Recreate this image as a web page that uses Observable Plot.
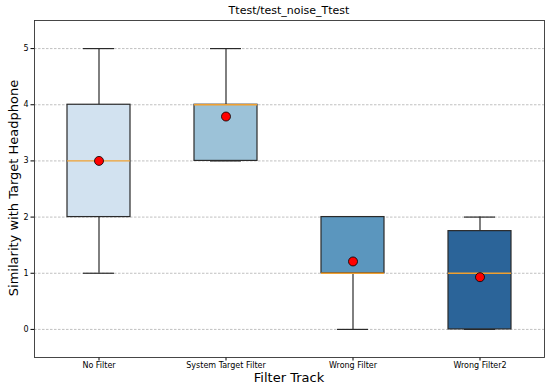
<!DOCTYPE html>
<html><head><meta charset="utf-8">
<script src="https://cdn.jsdelivr.net/npm/d3@7"></script>
<script src="https://cdn.jsdelivr.net/npm/@observablehq/plot@0.6"></script>
<style>
body{margin:0;background:#fff;font-family:"DejaVu Sans",sans-serif;}
#wrap{position:relative;width:550px;height:389px;}
#title{position:absolute;top:4px;left:34px;width:510px;text-align:center;font-size:11px;color:#000;}
#xlab{position:absolute;top:370px;left:34px;width:510px;text-align:center;font-size:13px;line-height:15px;color:#000;}
#ylab{position:absolute;left:13px;top:188px;transform:translate(-50%,-50%) rotate(-90deg);font-size:13px;line-height:15px;white-space:nowrap;color:#000;}
#chart{position:absolute;top:0;left:0;}
</style></head><body>
<div id="wrap"><div id="chart"></div>
<div id="title">Ttest/test_noise_Ttest</div>
<div id="ylab">Similarity with Target Headphone</div>
<div id="xlab">Filter Track</div></div>
<script>
const categories = ["No Filter","System Target Filter","Wrong Filter","Wrong Filter2"];
const whiskerLow = [1, 3, 0, 0];
const q1 = [2, 3, 1, 0];
const median = [3, 4, 1, 1];
const q3 = [4, 4, 2, 1.75];
const whiskerHigh = [5, 5, 2, 2];
const means = [3.0, 3.79, 1.21, 0.93];
const colors = ["#d2e2f0", "#9cc2d8", "#5b96be", "#2b6499"];
const yTicks = [0, 1, 2, 3, 4, 5];

const rows = categories.map((c,i)=>({cat:c, lo:whiskerLow[i], q1:q1[i], med:median[i], q3:q3[i], hi:whiskerHigh[i], mean:means[i], color:colors[i]}));

const chart = Plot.plot({
  width: 550, height: 389,
  marginLeft: 34, marginRight: 6, marginTop: 20, marginBottom: 32,
  style: {fontFamily: "DejaVu Sans, sans-serif", fontSize: "8px", color: "#000", background: "#fff"},
  x: {type: "band", domain: categories, padding: 0, label: null, tickSize: 3.5, tickPadding: 1.5},
  y: {domain: [-0.5, 5.5], ticks: yTicks, label: null, tickSize: 3.5, tickPadding: 2.5, tickFormat: d3.format("d")},
  marks: [
    Plot.ruleY(yTicks, {stroke: "#b0b0b0", strokeDasharray: "2.5,1.5", strokeWidth: 0.8}),
    Plot.ruleX(rows, {x: "cat", y1: "lo", y2: "q1", stroke: "#2a2a2a", strokeWidth: 1.2}),
    Plot.ruleX(rows, {x: "cat", y1: "q3", y2: "hi", stroke: "#2a2a2a", strokeWidth: 1.2}),
    Plot.tickY(rows, {x: "cat", y: "lo", stroke: "#2a2a2a", strokeWidth: 1.2, insetLeft: 48, insetRight: 48}),
    Plot.tickY(rows, {x: "cat", y: "hi", stroke: "#2a2a2a", strokeWidth: 1.2, insetLeft: 48, insetRight: 48}),
    Plot.barY(rows, {x: "cat", y1: "q1", y2: "q3", fill: "color", stroke: "#2a2a2a", strokeWidth: 1.2, insetLeft: 32, insetRight: 32}),
    Plot.tickY(rows, {x: "cat", y: "med", stroke: "#f0a030", strokeWidth: 1.3, insetLeft: 32, insetRight: 32}),
    Plot.dot(rows, {x: "cat", y: "mean", r: 4.5, fill: "red", stroke: "#000", strokeWidth: 0.8}),
    Plot.frame({stroke: "#333", strokeWidth: 0.9})
  ]
});
document.getElementById("chart").appendChild(chart);
</script></body></html>
